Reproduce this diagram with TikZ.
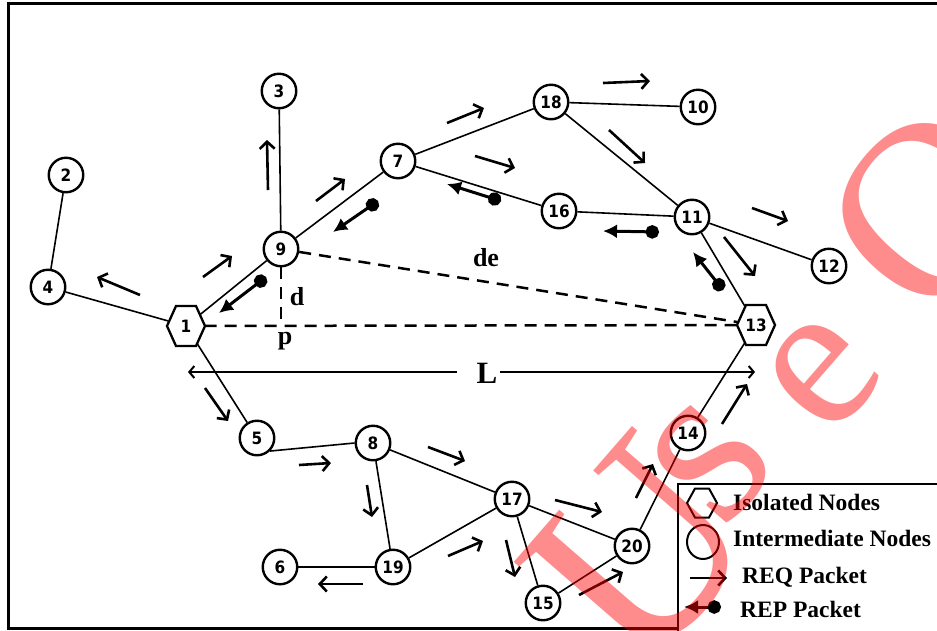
\documentclass[tikz,border=0pt]{standalone}
\usepackage{fontspec}
\setmainfont{Liberation Serif}
\newfontfamily\numfont{DejaVu Sans}[FakeStretch=0.9]
\newfontfamily\wmfont{Liberation Serif}
\usetikzlibrary{arrows.meta,backgrounds}
\begin{document}
\begin{tikzpicture}[x=1pt,y=-1pt,
  nd/.style={circle,draw,line width=2.4pt,minimum size=34.5pt,inner sep=0pt,fill=white,font=\numfont\bfseries\fontsize{17}{17}\selectfont},
  hx/.style={circle,minimum size=37pt,inner sep=0pt,font=\numfont\bfseries\fontsize{17}{17}\selectfont},
  hexline/.style={line width=2.3pt,fill=white,line join=miter},
  edge/.style={line width=1.6pt},
  dsh/.style={line width=2.5pt,dash pattern=on 12pt off 8pt},
  req/.style={line width=2.6pt,-{Straight Barb[length=7pt,width=15pt]}},
  rep/.style={line width=3pt,{Circle[length=13.5pt]}-{Latex[length=14pt,width=14pt]}},
  larrow/.style={line width=2pt,-{Straight Barb[length=5pt,width=12pt]}},
  lbl/.style={inner sep=0pt,font=\bfseries\fontsize{26}{26}\selectfont},
  leg/.style={inner sep=0pt,anchor=base west,font=\bfseries\fontsize{23.5}{24}\selectfont},
  frame/.style={line width=3pt},
  legframe/.style={line width=2.5pt,fill=white},
  wm/.style={rotate=49,text=red,opacity=0.45,inner sep=0pt,font=\wmfont\fontsize{#1}{#1}\selectfont},
]
\useasboundingbox (0,0) rectangle (937,630);
\begin{pgfonlayer}{background}
\fill[white] (0,0) rectangle (937,630);
\end{pgfonlayer}
\draw[frame] (8,3) rectangle (960,628);

% nodes
\node[hx] (n1) at (186,326) {1};
\node[nd] (n2) at (66,175) {2};
\node[nd] (n3) at (279,91) {3};
\node[nd] (n4) at (48,287) {4};
\node[nd] (n5) at (257,438) {5};
\node[nd] (n6) at (280,567) {6};
\node[nd] (n7) at (398,161) {7};
\node[nd] (n8) at (373,443) {8};
\node[nd] (n9) at (281,249) {9};
\node[nd] (n10) at (698,107) {10};
\node[nd] (n11) at (692,217) {11};
\node[nd] (n12) at (829,266) {12};
\node[hx] (n13) at (756,325) {13};
\node[nd] (n14) at (688,433) {14};
\node[nd] (n15) at (543,603) {15};
\node[nd] (n16) at (559,211) {16};
\node[nd] (n17) at (512,499) {17};
\node[nd] (n18) at (551,102) {18};
\node[nd] (n19) at (393,567) {19};
\node[nd] (n20) at (632,546) {20};

\coordinate (p) at (281,326);
\coordinate (Lleft) at (188,372);
\coordinate (Lg1) at (457,372);
\coordinate (Lg2) at (500,372);
\coordinate (Lright) at (755,372);

\begin{pgfonlayer}{background}
\foreach \a/\b in {n2/n4,n4/n1,n1/n9,n9/n3,n9/n7,n7/n18,n7/n16,n18/n10,n18/n11,n16/n11,n11/n12,n11/n13,n1/n5,n8/n17,n8/n19,n19/n6,n19/n17,n17/n20,n17/n15,n15/n20,n20/n14,n14/n13}
  \draw[edge] (\a) -- (\b);
\draw[edge] (n5.-45) -- (n8.west);
\draw[dsh] (n1) -- (n13);
\draw[dsh] (n9) -- (n13);
\draw[dsh] (n9.south) -- (p);
\foreach \n in {n1,n13}
  \draw[hexline] (\n) ++(-19,0) -- ++(9,-20) -- ++(20,0) -- ++(9,20) -- ++(-9,20) -- ++(-20,0) -- cycle;
\end{pgfonlayer}

% labels
\node[lbl] (lde) at (486,258) {de};
\node[lbl] (ld) at (297,297) {d};
\node[lbl] (lp) at (285,341) {p};
\node[lbl,font=\bfseries\fontsize{31}{31}\selectfont] (lL) at (487,373) {L};
\draw[larrow] (Lg1) -- (Lleft);
\draw[larrow] (Lg2) -- (Lright);

% REQ packets
\foreach \x/\y/\u/\v in {140/295/97/277, 203/277/232/256, 268/190/267/140, 316/201/345/179,
  447/123/484/108, 603/83/650/81, 609/130/645/163, 475/156/515/168, 752/208/788/221,
  724/237/755/276, 205/388/228/421, 299/465/331/463, 367/485/372/517, 363/584/318/584,
  428/447/465/461, 448/556/483/541, 555/500/602/512, 506/540/515/577, 579/595/623/572,
  636/498/653/464, 722/424/747/384}
  \draw[req] (\x,\y) -- (\u,\v);

% REP packets
\foreach \x/\y/\u/\v in {266/277/219/313, 378/201/333/232, 501/201/447/184, 659/232/603/231, 723/290/693/252}
  \draw[rep] (\x,\y) -- (\u,\v);

% legend
\draw[legframe] (678,484) rectangle (960,640);
\draw[line width=2pt] (702,503) ++(-15,0) -- ++(8,-14.5) -- ++(14,0) -- ++(8,14.5) -- ++(-8,14.5) -- ++(-14,0) -- cycle;
\draw[line width=2pt] (703,542) ellipse [x radius=16, y radius=17];
\draw[req] (690,578) -- (727,578);
\draw[rep] (721,607) -- (684,607);
\node[leg] (t1) at (733,510) {Isolated Nodes};
\node[leg] (t2) at (733,546) {Intermediate Nodes};
\node[leg] (t3) at (742,583) {REQ Packet};
\node[leg] (t4) at (740,617) {REP Packet};

% watermark
\node[wm=265] (wmU) at (640,552) {U};
\node[wm=235] (wms) at (712,462) {s};
\node[wm=210] (wme) at (823,375) {e};
\node[wm=250] (wmO) at (930,210) {O};
\end{tikzpicture}
\end{document}
